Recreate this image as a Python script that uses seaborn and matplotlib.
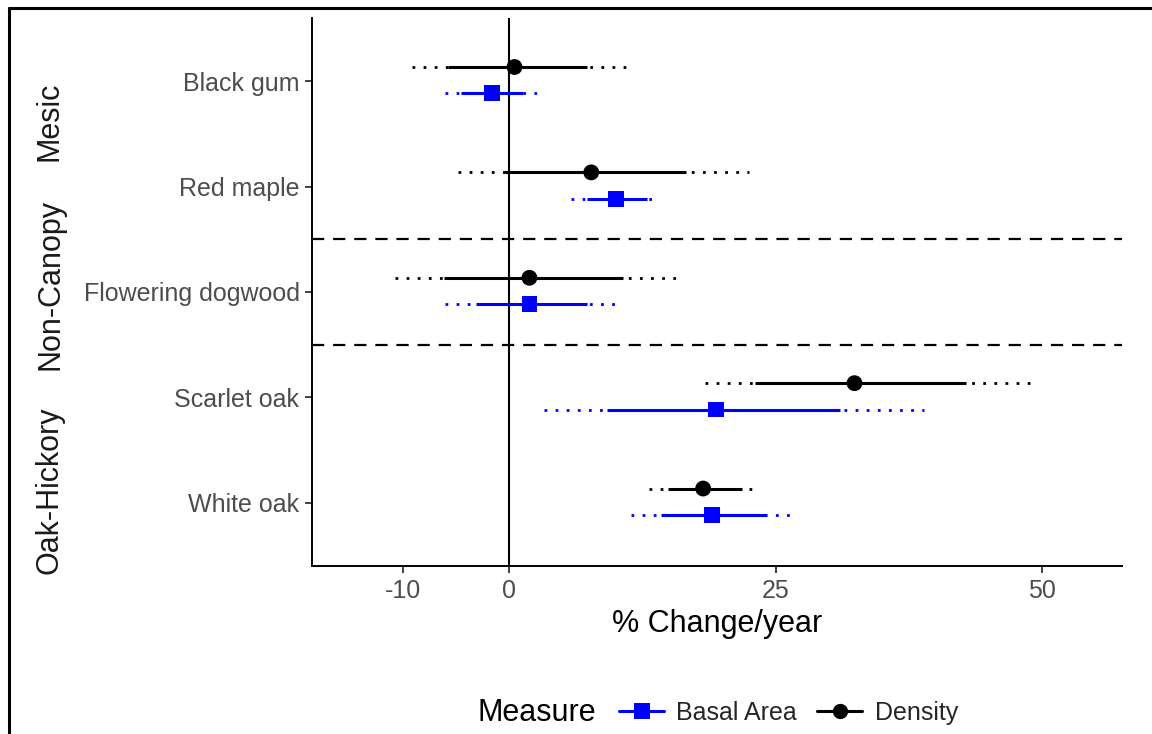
import numpy as np
import pandas as pd
import matplotlib
matplotlib.use("Agg")
import matplotlib.pyplot as plt
from matplotlib.lines import Line2D
import seaborn as sns

# ---- data -------------------------------------------------------------
species = ["Black gum", "Red maple", "Flowering dogwood", "Scarlet oak", "White oak"]
groups = ["Mesic", "Non-Canopy", "Oak-Hickory"]
measures = ["Basal Area", "Density"]

density_est = [0.5, 7.7, 1.9, 32.4, 18.2]
density_lo = [-5.7, -0.5, -6.1, 23.1, 14.9]
density_hi = [7.3, 16.6, 10.7, 42.9, 21.8]
density_lo95 = [-9.1, -4.8, -10.7, 18.4, 13.1]
density_hi95 = [11.3, 22.5, 15.8, 49.0, 23.3]

basal_est = [-1.6, 10.0, 1.9, 19.4, 19.0]
basal_lo = [-4.5, 7.3, -3.1, 9.2, 14.2]
basal_hi = [1.3, 12.9, 7.3, 31.0, 24.1]
basal_lo95 = [-6.0, 5.8, -6.0, 3.3, 11.4]
basal_hi95 = [3.2, 13.9, 10.3, 38.9, 26.7]

x_ticks = [-10, 0, 25, 50]

# ---- long table --------------------------------------------------------
dodge = {"Density": -0.135, "Basal Area": 0.115}
rows = []
for i, sp in enumerate(species):
    rows.append(dict(Species=sp, Measure="Density", est=density_est[i],
                     lo=density_lo[i], hi=density_hi[i],
                     lo95=density_lo95[i], hi95=density_hi95[i]))
    rows.append(dict(Species=sp, Measure="Basal Area", est=basal_est[i],
                     lo=basal_lo[i], hi=basal_hi[i],
                     lo95=basal_lo95[i], hi95=basal_hi95[i]))
df = pd.DataFrame(rows)
df["ypos"] = df["Species"].map({s: i for i, s in enumerate(species)}) + df["Measure"].map(dodge)

colors = {"Basal Area": "#0000FF", "Density": "#000000"}
markers = {"Basal Area": "s", "Density": "o"}

# ---- figure ------------------------------------------------------------
sns.set_theme(style="ticks")
plt.rcParams["font.family"] = ["Liberation Sans", "DejaVu Sans"]

W, H = 1152, 734
fig = plt.figure(figsize=(W / 100, H / 100), dpi=100)
ax = fig.add_axes([312 / W, 1 - 566 / H, (1122 - 312) / W, (566 - 18) / H])

# reference lines
ax.axvline(0, color="black", lw=1.5, zorder=1)
for yb in (1.5, 2.5):
    ax.axhline(yb, color="black", lw=1.6, linestyle=(0, (5.5, 4)), zorder=1)

# interval segments: dotted outer, solid inner
for m in measures:
    sub = df[df["Measure"] == m]
    ax.hlines(sub["ypos"], sub["lo95"], sub["hi95"], color=colors[m],
              lw=2.0, linestyle=(0, (1, 3)), zorder=2)
    ax.hlines(sub["ypos"], sub["lo"], sub["hi"], color=colors[m],
              lw=2.2, zorder=3)

sns.scatterplot(data=df, x="est", y="ypos", hue="Measure", style="Measure",
                palette=colors, markers=markers, s=130, linewidth=0,
                legend=False, ax=ax, zorder=4)

ax.set_xlim(-18.5, 57.5)
ax.set_ylim(4.6, -0.6)
ax.set_xticks(x_ticks)
ax.set_xticklabels([str(t) for t in x_ticks])
ax.set_yticks(range(len(species)))
ax.set_yticklabels(species)
ax.set_xlabel("% Change/year", fontsize=22, color="black", labelpad=5)
ax.set_ylabel("")

for side in ("top", "right"):
    ax.spines[side].set_visible(False)
for side in ("left", "bottom"):
    ax.spines[side].set_linewidth(1.4)
    ax.spines[side].set_color("black")
ax.tick_params(axis="both", length=5, width=1.3, color="#333333",
               labelsize=18, labelcolor="#4D4D4D", pad=4)

# group labels along the left side
for name, yc in zip(groups, [121, 285, 490]):
    fig.text(50 / W, 1 - yc / H, name, rotation=90, ha="center", va="center",
             fontsize=22, color="#1A1A1A")

# legend along the bottom
fig.text(478 / W, 1 - 713 / H, "Measure", ha="left", va="center",
         fontsize=22, color="black")
handles = [Line2D([], [], color=colors[m], marker=markers[m], lw=2.2,
                  markersize=11, markeredgewidth=0) for m in measures]
fig.legend(handles, measures, loc="center left",
           bbox_to_anchor=(619 / W, 1 - 713 / H), ncol=2, frameon=False,
           fontsize=18, handlelength=1.8, handletextpad=0.5,
           columnspacing=0.8, borderpad=0, borderaxespad=0)

# outer frame (left and top edges)
fig.add_artist(Line2D([9 / W, 9 / W], [0, 1 - 8 / H], transform=fig.transFigure,
                      color="black", lw=2.2))
fig.add_artist(Line2D([9 / W, 1], [1 - 8 / H, 1 - 8 / H], transform=fig.transFigure,
                      color="black", lw=2.2))

fig.savefig("out.png", dpi=100, facecolor="white")
